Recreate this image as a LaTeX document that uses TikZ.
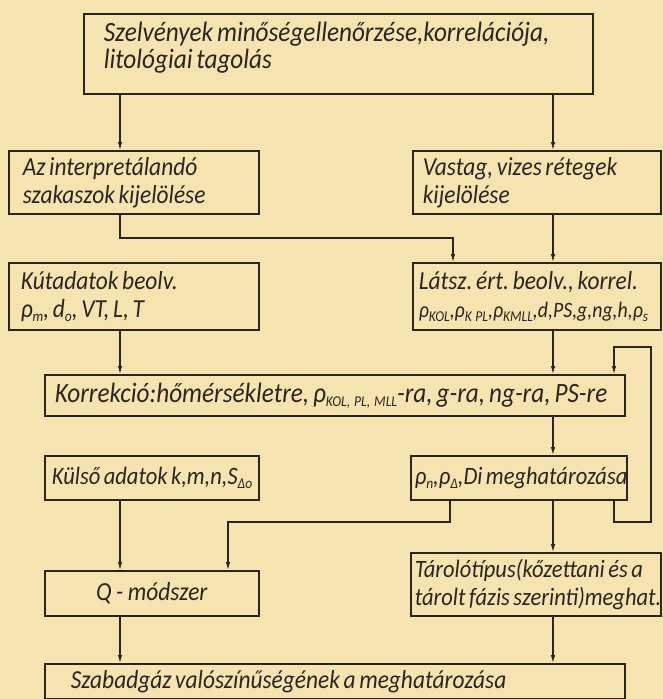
\documentclass[tikz,border=0pt]{standalone}
\usepackage{fontspec}
\setmainfont{Carlito}[FakeStretch=0.9]
\usetikzlibrary{arrows.meta, positioning, calc}
\definecolor{paper}{HTML}{F5E4B0}
\definecolor{ink}{HTML}{2B2520}
\newcommand{\sbs}[1]{\raisebox{-4pt}{\fontsize{15}{15}\selectfont #1}}
\newcommand{\fsz}[1]{\itshape\fontsize{#1}{28}\selectfont}

\tikzset{
  stepbox/.style={draw=ink, line width=1.6pt, anchor=north west, inner ysep=3pt,
    align=left, text=ink, font=\fsz{26},
    execute at begin node={\frenchspacing\spaceskip=0.14em plus 0.04em\xspaceskip=0.16em\relax}},
  arr/.style={draw=ink, line width=1.1pt, -{Latex[length=8pt,width=4.5pt]}},
}

\begin{document}
\begin{tikzpicture}[x=1pt, y=-1pt]
  \fill[paper] (0,0) rectangle (663,699);
  \useasboundingbox (0,0) rectangle (663,699);

  % column positions of the connectors
  \coordinate (lx) at (120,0);
  \coordinate (rx) at (553,0);
  \coordinate (lpx) at (614,0);
  \coordinate (qx) at (450,0);
  \coordinate (abend) at (453,238);
  \coordinate (qbend) at (228,522);
  \coordinate (loopbot) at (651,522);
  \coordinate (looptop) at (651,347);

  \node[stepbox, font=\fsz{28}, inner xsep=20pt, text width=469pt, minimum height=80pt] (top) at (83,13)
    {\mbox{Szelvények minőségellenőrzése,korrelációja,}\\[-1pt]\mbox{litológiai tagolás}\par\vspace{12pt}};

  \node[stepbox, inner xsep=14pt, text width=222pt, minimum height=63pt] (az) at (8,150)
    {\mbox{Az interpretálandó}\\\mbox{szakaszok kijelölése}};
  \node[stepbox, inner xsep=10pt, text width=228pt, minimum height=63pt] (vast) at (412,150)
    {\mbox{Vastag, vizes rétegek}\\\mbox{kijelölése}};

  \node[stepbox, inner xsep=12pt, text width=226pt, minimum height=67pt] (kut) at (8,262)
    {\mbox{Kútadatok beolv.}\\\mbox{ρ\sbs{m}, d\sbs{o}, VT, L, T}};
  \node[stepbox, font=\fsz{26}, inner xsep=6pt, text width=236pt, minimum height=67pt] (latsz) at (412,262)
    {\mbox{Látsz. ért. beolv., korrel.}\\\mbox{\fontsize{22}{28}\selectfont ρ\sbs{KOL},ρ\sbs{K PL},ρ\sbs{KMLL},d,PS,g,ng,h,ρ\sbs{s}}};

  \node[stepbox, font=\fsz{28}, inner xsep=10pt, text width=560pt, minimum height=41pt] (korr) at (44,374)
    {\mbox{Korrekció:hőmérsékletre, ρ\sbs{KOL, PL, MLL}-ra, g-ra, ng-ra, PS-re}};

  \node[stepbox, font=\fsz{25}, inner xsep=7pt, text width=200pt, minimum height=44pt] (kulso) at (44,455)
    {\mbox{Külső adatok k,m,n,S\sbs{Δo}}};
  \node[stepbox, font=\fsz{25}, inner xsep=4pt, text width=208pt, minimum height=44pt] (gn) at (410,455)
    {\mbox{ρ\sbs{n},ρ\sbs{Δ},Di meghatározása}};

  \node[stepbox, align=center, inner xsep=4pt, text width=206pt, minimum height=45pt] (qm) at (44,570)
    {Q - módszer};
  \node[stepbox, font=\fsz{25}, inner xsep=4pt, text width=242pt, minimum height=63pt] (tarolo) at (410,552)
    {\mbox{Tárolótípus(kőzettani és a}\\\mbox{tárolt fázis szerinti)meghat.}};

  \node[stepbox, font=\fsz{26}, inner xsep=26pt, text width=528pt, minimum height=35pt] (szab) at (44,663)
    {\mbox{Szabadgáz valószínűségének a meghatározása}};

  % connectors
  \draw[arr] (top.south -| lx) -- (az.north -| lx);
  \draw[arr] (top.south -| rx) -- (vast.north -| rx);
  \draw[arr] (az.south -| lx) |- (abend) -- (latsz.north -| abend);
  \draw[arr] (vast.south -| rx) -- (latsz.north -| rx);
  \draw[arr] (kut.south -| lx) -- (korr.north -| lx);
  \draw[arr] (latsz.south -| rx) -- (korr.north -| rx);
  \draw[arr] (gn.south -| lpx) |- (loopbot) -- (looptop) -| (korr.north -| lpx);
  \draw[arr] (korr.south -| rx) -- (gn.north -| rx);
  \draw[arr] (kulso.south -| lx) -- (qm.north -| lx);
  \draw[arr] (gn.south -| qx) |- (qbend) -- (qm.north -| qbend);
  \draw[arr] (gn.south -| rx) -- (tarolo.north -| rx);
  \draw[arr] (qm.south -| lx) -- (szab.north -| lx);
  \draw[arr] (tarolo.south -| rx) -- (szab.north -| rx);
\end{tikzpicture}
\end{document}
